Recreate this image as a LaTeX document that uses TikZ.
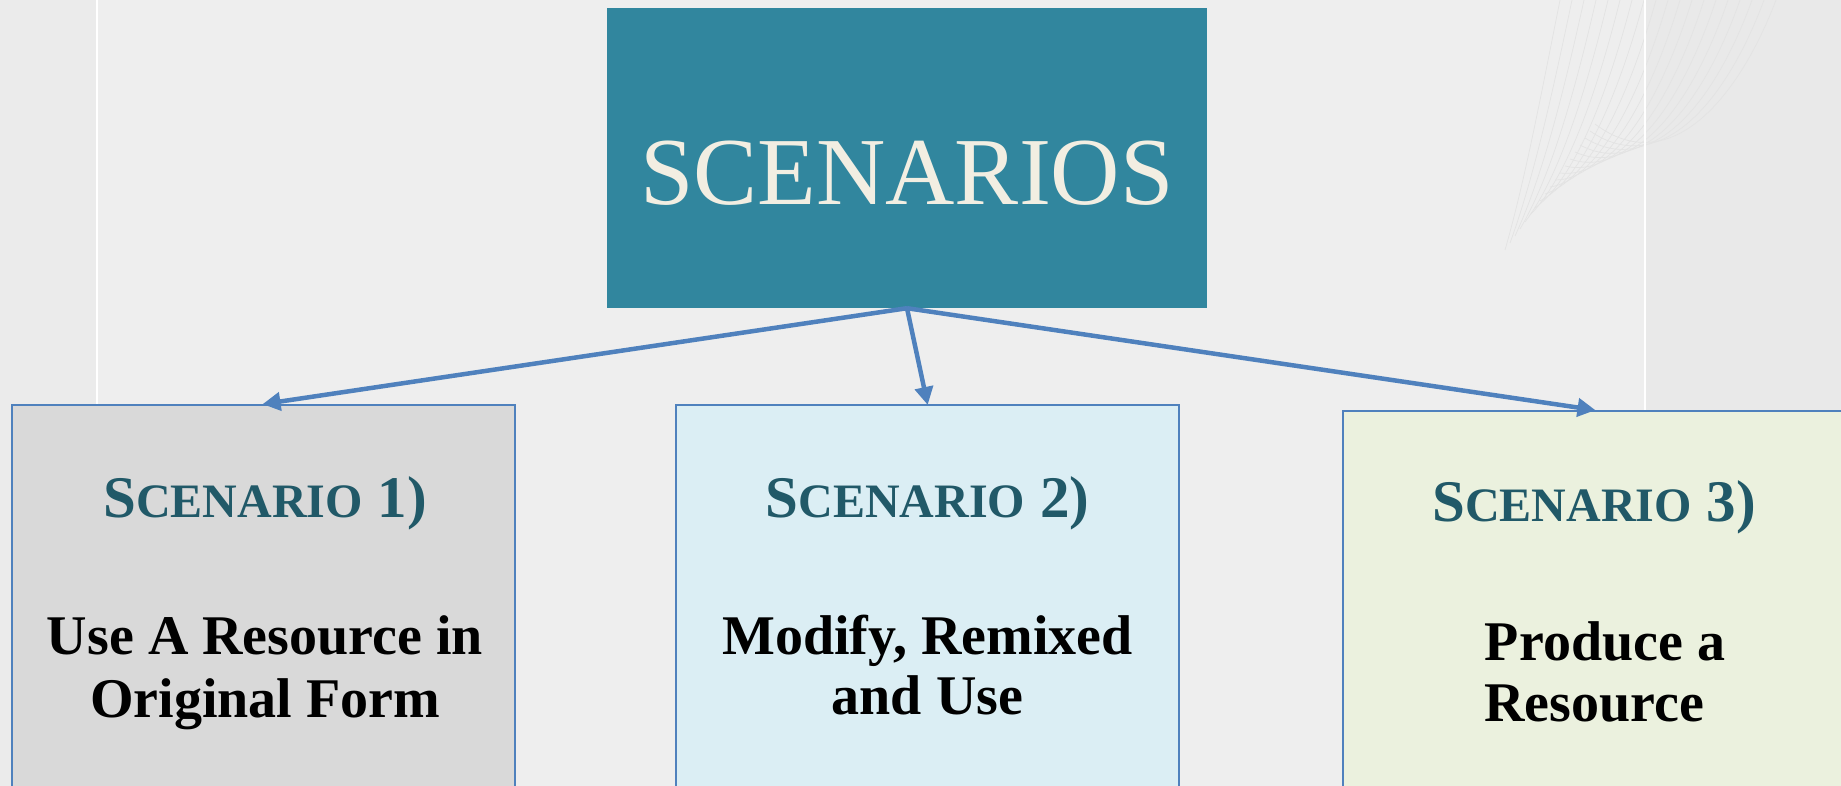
\documentclass[tikz,border=0pt]{standalone}
\usepackage{fontspec}
\setmainfont{Liberation Serif}
\usetikzlibrary{arrows.meta}
\definecolor{bgmain}{HTML}{EEEEEE}
\definecolor{bgleft}{HTML}{EBEBEB}
\definecolor{bgright}{HTML}{E9E9E9}
\definecolor{teal}{HTML}{31869E}
\definecolor{cream}{HTML}{F2EEE2}
\definecolor{edgeblue}{HTML}{4F81BD}
\definecolor{headteal}{HTML}{215968}
\definecolor{fillgray}{HTML}{D9D9D9}
\definecolor{fillblue}{HTML}{DBEEF4}
\definecolor{fillgreen}{HTML}{EBF1DE}
\definecolor{swoosh}{HTML}{E3E3E3}
\newcommand{\scbig}{\fontsize{59}{60}\selectfont}
\newcommand{\scsmall}{\fontsize{48}{50}\selectfont}
\newcommand{\scen}[1]{{\scbig S}{\scsmall CENARIO}{\scbig\ #1)}}
\tikzset{
  topbox/.style={fill=teal, minimum width=600pt, minimum height=300pt, inner sep=0pt},
  scenbox/.style={draw=edgeblue, line width=2pt, minimum width=503pt, minimum height=420pt, inner sep=0pt, anchor=north},
  toptext/.style={anchor=base, text=cream, font=\fontsize{96}{100}\selectfont, inner sep=0pt},
  headtext/.style={anchor=base, text=headteal, font=\bfseries, inner sep=0pt},
  bodytext/.style={anchor=base, text=black, font=\fontsize{56}{58}\selectfont\bfseries, inner sep=0pt},
  arr/.style={draw=edgeblue, line width=4.5pt, -{Triangle[length=18pt,width=18pt]}, shorten >=-1pt}
}
\begin{document}
\begin{tikzpicture}[x=1pt,y=-1pt]
\useasboundingbox (0,0) rectangle (1841,786);
\fill[bgmain] (0,0) rectangle (1841,786);
\fill[bgleft] (0,0) rectangle (97,786);
\fill[bgright] (1645,0) rectangle (1841,786);
% faint swoosh top right
\foreach \i in {0,...,18}{
  \draw[swoosh, line width=0.7pt] (1560+\i*12,0) .. controls (1540+\i*11,100) and (1525+\i*8,180) .. (1505+\i*5,250-\i*7);
}
\draw[white, line width=2pt] (97,0) -- (97,786);
\draw[white, line width=2pt] (1645,0) -- (1645,786);
% top box
\node[topbox] (top) at (907,158) {};
\node[toptext] (toplabel) at (907,205) {SCENARIOS};
% scenario boxes
\node[scenbox, fill=fillgray] (b1) at (263.5,404) {};
\node[scenbox, fill=fillblue] (b2) at (927.5,404) {};
\node[scenbox, fill=fillgreen] (b3) at (1594.5,410) {};
% arrows
\draw[arr] (top.south) -- (b1.north);
\draw[arr] (top.south) -- (b2.north);
\draw[arr] (top.south) -- (b3.north);
% texts
\node[headtext] (h1) at (265,517) {\scen{1}};
\node[bodytext] (t1a) at (265,654) {Use A Resource in};
\node[bodytext] (t1b) at (265,717) {Original Form};
\node[headtext] (h2) at (927.5,517) {\scen{2}};
\node[bodytext] (t2a) at (927.5,654) {Modify, Remixed};
\node[bodytext] (t2b) at (927.5,714) {and Use};
\node[headtext] (h3) at (1594,521) {\scen{3}};
\node[bodytext] (t3a) at (1605,660) {Produce a};
\node[bodytext] (t3b) at (1594,721) {Resource};
\end{tikzpicture}
\end{document}
